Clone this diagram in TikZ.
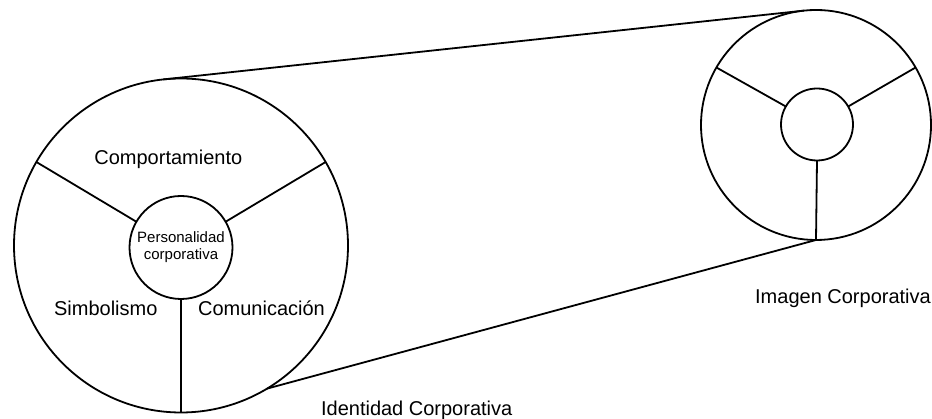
\documentclass[tikz,border=0pt]{standalone}
\usepackage{fontspec}
\setmainfont{Liberation Sans}
\begin{document}
\begin{tikzpicture}[x=1pt,y=1pt,
  ring/.style={circle,draw,line width=1.8pt,inner sep=0pt,outer sep=0pt},
  link/.style={line width=1.8pt},
  lbl/.style={anchor=base,inner sep=0pt,font=\fontsize{20}{24}\selectfont},
  corelbl/.style={align=center,font=\fontsize{15}{17}\selectfont}]
\useasboundingbox (0,0) rectangle (932,419);

% large wheel: identity
\node[ring,minimum size=334pt] (idout) at (181,173.5) {};
\node[ring,minimum size=103pt,corelbl] (idcore) at (181,171.5) {Personalidad\\corporativa};
\foreach \a in {150,30,270}
  \draw[link] (idcore.\a) -- (idout.\a);

% small wheel: image
\node[ring,minimum size=230pt] (imout) at (816,294) {};
\node[ring,minimum size=72pt] (imcore) at (817,294.5) {};
\foreach \a in {150,30,270}
  \draw[link] (imcore.\a) -- (imout.\a);

% projection lines between the wheels
\draw[link] (idout.96) -- (imout.96);
\draw[link] (idout.-59) -- (imout.270);

% labels
\node[lbl] (comp) at (168.3,254) {Comportamiento};
\node[lbl] (simb) at (105.8,103) {Simbolismo};
\node[lbl] (comu) at (261.5,103) {Comunicación};
\node[lbl] (ident) at (416.7,3) {Identidad Corporativa};
\node[lbl] (imag) at (843,115) {Imagen Corporativa};
\end{tikzpicture}
\end{document}
